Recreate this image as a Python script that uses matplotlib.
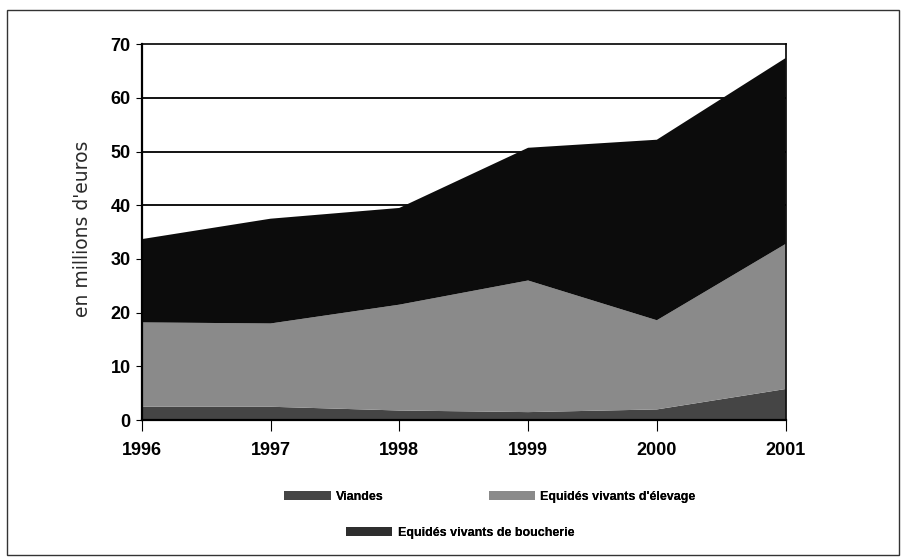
import matplotlib.pyplot as plt
from matplotlib.patches import Patch, Rectangle

years = [1996, 1997, 1998, 1999, 2000, 2001]
viandes = [2.5, 2.5, 1.8, 1.5, 2.0, 5.8]
elevage = [15.7, 15.5, 19.7, 24.5, 16.6, 27.0]
boucherie = [15.5, 19.5, 18.0, 24.7, 33.6, 34.6]
yticks = [0, 10, 20, 30, 40, 50, 60, 70]
legend_labels = ['Viandes', "Equidés vivants d'élevage", 'Equidés vivants de boucherie']

narrow = ['Liberation Sans Narrow', 'Liberation Sans', 'DejaVu Sans']
c_viandes = '#454545'
c_elevage = '#8a8a8a'
c_boucherie = '#0c0c0c'

fig = plt.figure(figsize=(9.03, 5.58), dpi=100)
ax = fig.add_axes([0.157, 0.247, 0.713, 0.674])

for g in [40, 50, 60]:
    ax.axhline(g, color='black', lw=1.3, zorder=0)

ax.stackplot(years, viandes, elevage, boucherie,
             colors=[c_viandes, c_elevage, c_boucherie],
             edgecolor='none', zorder=1)

ax.set_xlim(1996, 2001)
ax.set_ylim(0, 70)
ax.set_xticks(years)
ax.set_yticks(yticks)
ax.set_xticklabels([str(y) for y in years], family=narrow, weight='bold', fontsize=13)
ax.set_yticklabels([str(t) for t in yticks], family=narrow, weight='bold', fontsize=13)
ax.tick_params(axis='x', direction='out', length=8, width=0.8, pad=8)
ax.tick_params(axis='y', direction='out', length=4, width=0.8, pad=4)
ax.spines['left'].set_linewidth(1.6)
ax.spines['bottom'].set_linewidth(1.6)
ax.spines['top'].set_linewidth(1.2)
ax.spines['right'].set_linewidth(1.2)
ax.set_ylabel("en millions d'euros", fontsize=13.5, color='#2a2a2a',
              family=['DejaVu Sans'])
ax.yaxis.set_label_coords(-0.078, 0.51)

# legend, one small legend per item so that they sit where the original has them
leg_font = {'family': narrow, 'weight': 'bold', 'size': 9}
items = [(c_viandes, legend_labels[0], 0.315, 0.110),
         (c_elevage, legend_labels[1], 0.541, 0.110),
         ('#2e2e2e', legend_labels[2], 0.383, 0.045)]
for col, lab, lx, ly in items:
    leg = fig.legend([Patch(facecolor=col, edgecolor='none')], [lab],
                     loc='center left', bbox_to_anchor=(lx, ly), frameon=False,
                     borderpad=0, borderaxespad=0, handlelength=3.7,
                     handleheight=0.7, handletextpad=0.45, prop=leg_font)
    fig.add_artist(leg)

# scanned frame around the whole chart
fig.add_artist(Rectangle((0.008, 0.005), 0.988, 0.977, transform=fig.transFigure,
                         fill=False, edgecolor='#333333', lw=1))

fig.savefig('out.png', dpi=100)
